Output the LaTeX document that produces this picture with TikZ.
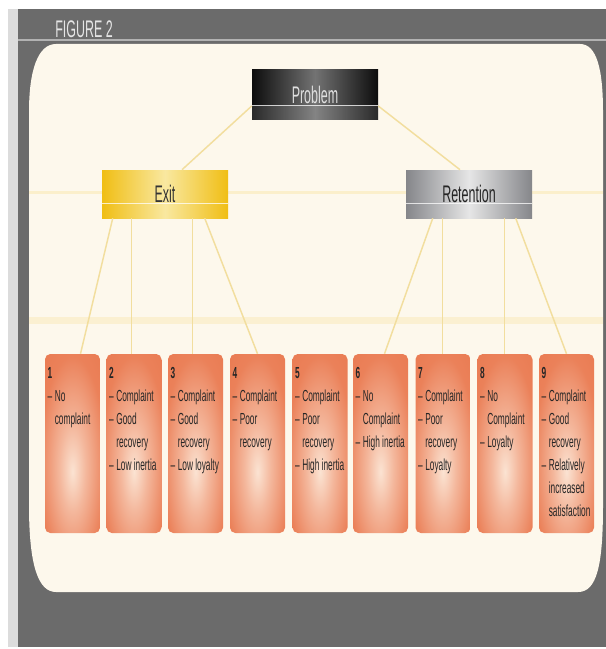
\documentclass[tikz,border=0pt]{standalone}
\usepackage{fontspec}
\setmainfont{Liberation Sans}
\newfontfamily\cond[FakeStretch=0.52]{Liberation Sans}
\usetikzlibrary{calc}
\definecolor{bgdark}{HTML}{6B6B6B}
\definecolor{bgstrip}{HTML}{DCDCDC}
\definecolor{panelcol}{HTML}{FDF8EC}
\definecolor{bandcol}{HTML}{FBEFCB}
\definecolor{linkcol}{HTML}{F2DE9E}
\definecolor{orng}{HTML}{E9764C}
\definecolor{orngl}{HTML}{FBE3D2}
\definecolor{yel}{HTML}{F0BE14}
\definecolor{yell}{HTML}{F9E8A0}
\definecolor{gry}{HTML}{85868A}
\definecolor{gryl}{HTML}{E6E6E6}
\pgfdeclareradialshading{boxglow}{\pgfpoint{0bp}{-8bp}}{color(0bp)=(orngl); color(12bp)=(orngl!60!orng); color(30bp)=(orng!90!orngl); color(50bp)=(orng); color(100bp)=(orng)}
\newcommand\ind{\hphantom{–\,}}
\tikzset{
  leaf/.style={rounded corners=4pt, minimum width=41.25pt, minimum height=134.25pt, inner sep=0pt, shade, shading=boxglow},
  head/.style={minimum width=94.5pt, inner sep=0pt, font=\cond\fontsize{18}{18}\selectfont},
  link/.style={draw=linkcol, line width=1.1pt},
  leaftext/.style={anchor=north west, align=left, inner sep=0pt, text=black!85, font=\cond\fontsize{12}{17.25}\selectfont},
  sheen/.style={draw=white, line width=0.7pt, opacity=0.75}
}
\begin{document}
\begin{tikzpicture}[x=0.75pt,y=-0.75pt]
\useasboundingbox (0,0) rectangle (606,649);
% background
\fill[white] (0,0) rectangle (606,649);
\fill[bgstrip] (8,9) rectangle (18,647);
\fill[bgdark] (18,9) rectangle (606,647);
\draw[gray!60, line width=0.9pt] (18,40) -- (606,40);
\node[anchor=west, inner sep=0pt, text=gray!20, font=\cond\fontsize{18}{18}\selectfont] (fig) at (55,29) {FIGURE 2};
% panel
\fill[panelcol] (56,44) -- (580,44) .. controls (597,44) and (603,70) .. (603,112) -- (603,505)
  .. controls (603,565) and (597,592) .. (578,592) -- (56,592)
  .. controls (38,592) and (29,565) .. (29,505) -- (29,112)
  .. controls (29,70) and (38,44) .. (56,44) -- cycle;
\fill[bandcol] (29,191) rectangle (603,194);
\fill[bandcol, opacity=0.8] (29,317) rectangle (603,324);
% header nodes
\node[head, minimum height=37.5pt, left color=black!95, right color=black!95, middle color=black!55, text=gray!25] (P) at (315,95) {Problem};
\node[head, minimum height=36pt, left color=yel, right color=yel, middle color=yell, text=black!80] (E) at (165,194) {Exit};
\node[head, minimum height=36pt, left color=gry, right color=gry, middle color=gryl, text=black!85] (R) at (469,194) {Retention};
\draw[sheen] ($(P.west)+(0,10)$) -- ($(P.east)+(0,10)$);
\fill[white, opacity=0.12] ($(P.west)+(0,10)$) rectangle (P.south east);
\draw[sheen] ($(E.west)+(0,9)$) -- ($(E.east)+(0,9)$);
\draw[sheen] ($(R.west)+(0,9)$) -- ($(R.east)+(0,9)$);
% leaf nodes
\node[leaf] (b1) at (72.5,443.5) {};
\node[leaf] (b2) at (134,443.5) {};
\node[leaf] (b3) at (195.5,443.5) {};
\node[leaf] (b4) at (257.5,443.5) {};
\node[leaf] (b5) at (320,443.5) {};
\node[leaf] (b6) at (380.5,443.5) {};
\node[leaf] (b7) at (443,443.5) {};
\node[leaf] (b8) at (505,443.5) {};
\node[leaf] (b9) at (566.5,443.5) {};
% connectors
\draw[link] ($(P.west)+(0,11)$) -- ($(E.north)+(17,0)$);
\draw[link] ($(P.east)+(0,11)$) -- ($(R.north)+(-9,0)$);
\draw[link] ($(E.south west)+(11,0)$) -- ($(b1.north)+(8,0)$);
\draw[link] ($(E.south west)+(30,0)$) coordinate (e2) -- (e2 |- b2.north);
\draw[link] ($(E.south west)+(91,0)$) coordinate (e3) -- (e3 |- b3.north);
\draw[link] ($(E.south west)+(103,0)$) -- (b4.north);
\draw[link] ($(R.south west)+(27,0)$) -- ($(b6.north)+(4,0)$);
\draw[link] ($(R.south west)+(37,0)$) coordinate (r7) -- (r7 |- b7.north);
\draw[link] ($(R.south west)+(99,0)$) coordinate (r8) -- (r8 |- b8.north);
\draw[link] ($(R.south west)+(110,0)$) -- (b9.north);
% leaf texts
\node[leaftext] (t1) at ($(b1.north west)+(2.5,13)$) {\textbf{1}\\–\,No\\\ind complaint};
\node[leaftext] (t2) at ($(b2.north west)+(2.5,13)$) {\textbf{2}\\–\,Complaint\\–\,Good\\\ind recovery\\–\,Low inertia};
\node[leaftext] (t3) at ($(b3.north west)+(2.5,13)$) {\textbf{3}\\–\,Complaint\\–\,Good\\\ind recovery\\–\,Low loyalty};
\node[leaftext] (t4) at ($(b4.north west)+(2.5,13)$) {\textbf{4}\\–\,Complaint\\–\,Poor\\\ind recovery};
\node[leaftext] (t5) at ($(b5.north west)+(2.5,13)$) {\textbf{5}\\–\,Complaint\\–\,Poor\\\ind recovery\\–\,High inertia};
\node[leaftext] (t6) at ($(b6.north west)+(2.5,13)$) {\textbf{6}\\–\,No\\\ind Complaint\\–\,High inertia};
\node[leaftext] (t7) at ($(b7.north west)+(2.5,13)$) {\textbf{7}\\–\,Complaint\\–\,Poor\\\ind recovery\\–\,Loyalty};
\node[leaftext] (t8) at ($(b8.north west)+(2.5,13)$) {\textbf{8}\\–\,No\\\ind Complaint\\–\,Loyalty};
\node[leaftext] (t9) at ($(b9.north west)+(2.5,13)$) {\textbf{9}\\–\,Complaint\\–\,Good\\\ind recovery\\–\,Relatively\\\ind increased\\\ind satisfaction};
\end{tikzpicture}
\end{document}
